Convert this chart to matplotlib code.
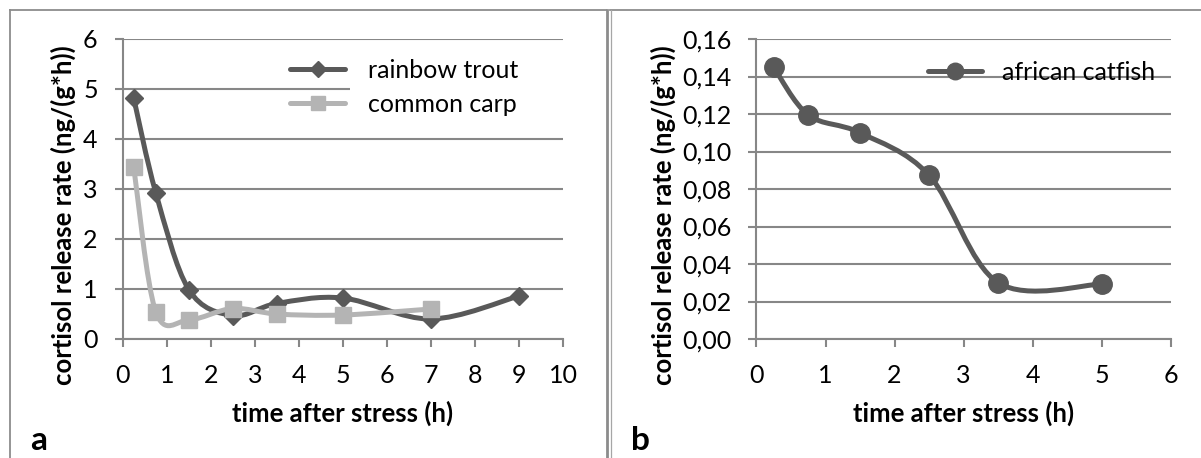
import numpy as np
import matplotlib
matplotlib.use("Agg")
import matplotlib.pyplot as plt
from matplotlib.path import Path
from matplotlib.patches import PathPatch, Rectangle
from matplotlib.lines import Line2D

plt.rcParams['font.family'] = ['Lato', 'DejaVu Sans']

# data
time_trout = [0.25, 0.75, 1.5, 2.5, 3.5, 5, 7, 9]
rate_trout = [4.82, 2.93, 0.99, 0.47, 0.71, 0.82, 0.40, 0.86]
time_carp = [0.25, 0.75, 1.5, 2.5, 3.5, 5, 7]
rate_carp = [3.44, 0.55, 0.38, 0.61, 0.50, 0.48, 0.60]
time_catfish = [0.25, 0.75, 1.5, 2.5, 3.5, 5]
rate_catfish = [0.145, 0.1195, 0.110, 0.0873, 0.030, 0.0293]

a_xticks = list(range(0, 11))
a_yticks = list(range(0, 7))
b_xticks = list(range(0, 7))
b_yticks = [0.00, 0.02, 0.04, 0.06, 0.08, 0.10, 0.12, 0.14, 0.16]

W, H = 1201, 458
dark = '#595959'
light = '#b4b4b4'
grid_c = '#878787'
ylab = 'cortisol release rate (ng/(g*h))'
xlab = 'time after stress (h)'
TICK_FS = 18
LAB_FS = 18.5


# Excel-like smoothed line (Catmull-Rom as cubic Bezier)
def smooth_path(x, y):
    pts = np.column_stack([x, y]).astype(float)
    p = np.vstack([pts[0], pts, pts[-1]])
    verts = [pts[0]]
    codes = [Path.MOVETO]
    for i in range(len(pts) - 1):
        p0, p1, p2, p3 = p[i], p[i + 1], p[i + 2], p[i + 3]
        verts += [p1 + (p2 - p0) / 6, p2 - (p3 - p1) / 6, p2]
        codes += [Path.CURVE4] * 3
    return Path(verts, codes)


def style_axes(ax, xticks, yticks):
    ax.set_axisbelow(True)
    ax.set_xlim(xticks[0], xticks[-1])
    ax.set_ylim(yticks[0], yticks[-1])
    ax.set_xticks(xticks)
    ax.set_yticks(yticks)
    ax.yaxis.grid(True, color=grid_c, lw=1.5)
    for s in ['top', 'right']:
        ax.spines[s].set_visible(False)
    for s in ['left', 'bottom']:
        ax.spines[s].set_color(grid_c)
        ax.spines[s].set_linewidth(1.5)
    ax.tick_params(axis='both', direction='out', length=6, width=1.5,
                   color=grid_c, pad=12, labelsize=TICK_FS, labelcolor='black')
    ax.set_xlabel(xlab, fontsize=LAB_FS, fontweight='bold', va='baseline')
    ax.xaxis.set_label_coords(0.5, -0.277)
    ax.set_ylabel(ylab, fontsize=LAB_FS, fontweight='bold', va='center')


def draw_series(ax, x, y, color, marker, ms):
    ax.add_patch(PathPatch(smooth_path(x, y), fill=False, edgecolor=color, lw=3.6,
                           capstyle='round', joinstyle='round', zorder=2))
    ax.plot(x, y, ls='none', marker=marker, ms=ms, color=color, zorder=3)
    return Line2D([], [], color=color, lw=3.6, marker=marker, ms=ms * 0.85,
                  solid_capstyle='round')


fig = plt.figure(figsize=(W / 100, H / 100), dpi=100)

# panel a
ax1 = fig.add_axes([122.7 / W, 1 - 339 / H, 440.3 / W, 300 / H])
style_axes(ax1, a_xticks, a_yticks)
ax1.yaxis.set_label_coords(-0.1356, 0.413)
h1 = draw_series(ax1, time_trout, rate_trout, dark, 'D', 9.5)
h2 = draw_series(ax1, time_carp, rate_carp, light, 's', 11.5)
ax1.add_patch(Rectangle((0.516, 0.73), 0.484, 0.23, transform=ax1.transAxes,
                        facecolor='white', edgecolor='none', zorder=0.8))
ax1.legend([h1, h2], ['rainbow trout', 'common carp'], loc='upper left',
           bbox_to_anchor=((290 - 122.7) / 440.3, 0.935), frameon=False,
           fontsize=TICK_FS, handlelength=2.2, handletextpad=0.9,
           labelspacing=0.46, borderpad=0, borderaxespad=0)

# panel b
ax2 = fig.add_axes([756.4 / W, 1 - 339 / H, (1171 - 756.4) / W, 300 / H])
style_axes(ax2, b_xticks, b_yticks)
ax2.set_yticklabels([f'{v:.2f}'.replace('.', ',') for v in b_yticks])
ax2.yaxis.set_label_coords((663 - 756.4) / (1171 - 756.4), 0.413)
h3 = draw_series(ax2, time_catfish, rate_catfish, dark, 'o', 14)
ax2.legend([h3], ['african catfish'], loc='center left',
           bbox_to_anchor=((928 - 756.4) / (1171 - 756.4), (339 - 72.7) / 300), frameon=False,
           fontsize=TICK_FS, handlelength=2.16, handletextpad=0.8,
           borderpad=0, borderaxespad=0)

# panel letters
fig.text(30 / W, 1 - 450 / H, 'a', fontsize=24, fontweight='bold', va='baseline')
fig.text(631 / W, 1 - 450 / H, 'b', fontsize=24, fontweight='bold', va='baseline')

# frame lines around the panels
def fline(x0, y0, x1, y1, c, lw):
    fig.add_artist(Line2D([x0 / W, x1 / W], [1 - y0 / H, 1 - y1 / H], color=c, lw=lw,
                          transform=fig.transFigure))

fline(9.5, 10, 606, 10, '#8c8c8c', 1.3)
fline(610, 10, W, 10, '#8c8c8c', 1.3)
fline(9.5, 10, 9.5, H, '#8c8c8c', 1.3)
fline(606.5, 10, 606.5, H, '#8c8c8c', 2.0)
fline(610.5, 10, 610.5, H, '#a6a6a6', 0.9)

fig.savefig('out.png', dpi=100)
